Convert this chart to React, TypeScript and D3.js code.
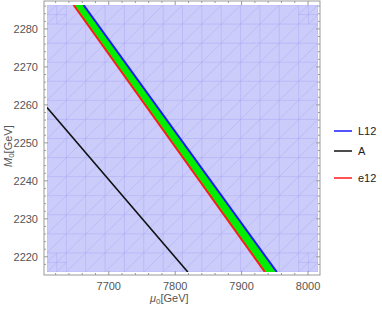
import React from "react";
import * as d3 from "d3";

// plot ranges
const muRange = [7607, 8015];
const mRange = [2216, 2286.3];

// tick values
const muTicks = [7700, 7800, 7900, 8000];
const mTicks = [2220, 2230, 2240, 2250, 2260, 2270, 2280];

// curves (mu0, M0)
const lineA = [
  { mu: 7607, m: 2259.3 },
  { mu: 7819, m: 2216 },
];
const lineL12 = [
  { mu: 7662, m: 2286.3 },
  { mu: 7953, m: 2216 },
];
const lineE12 = [
  { mu: 7647, m: 2286.3 },
  { mu: 7935, m: 2216 },
];

const legendItems = [
  { name: "L12", color: "#1a1aff" },
  { name: "A", color: "#111" },
  { name: "e12", color: "#ff1a1a" },
];

const App = () => {
  const frame = { left: 44, right: 320, top: 1, bottom: 275 };
  const inner = { left: 47, right: 318, top: 5, bottom: 272 };

  const x = d3.scaleLinear().domain(muRange).range([inner.left, inner.right]);
  const y = d3.scaleLinear().domain(mRange).range([inner.bottom, inner.top]);

  const line = d3
    .line<{ mu: number; m: number }>()
    .x((d) => x(d.mu))
    .y((d) => y(d.m));

  // green band between e12 and L12
  const band = [...lineE12, ...lineL12.slice().reverse()];

  // triangulated mesh of the shaded region
  const nx = 14;
  const ny = 14;
  const cw = (inner.right - inner.left) / nx;
  const ch = (inner.bottom - inner.top) / ny;
  const mesh: string[] = [];
  for (let i = 0; i <= nx; i++) {
    const px = inner.left + i * cw;
    mesh.push(`M${px},${inner.top}V${inner.bottom}`);
  }
  for (let j = 0; j <= ny; j++) {
    const py = inner.top + j * ch;
    mesh.push(`M${inner.left},${py}H${inner.right}`);
  }
  for (let i = 0; i < nx; i++) {
    for (let j = 0; j < ny; j++) {
      const x0 = inner.left + i * cw;
      const y0 = inner.top + j * ch;
      mesh.push(`M${x0},${y0 + ch}L${x0 + cw},${y0}`);
    }
  }
  // refined corners
  const corners = [
    [inner.left, inner.top],
    [inner.right - cw, inner.top],
    [inner.left, inner.bottom - ch],
    [inner.right - cw, inner.bottom - ch],
  ];
  corners.forEach(([cx, cy]) => {
    const hw = cw / 2;
    const hh = ch / 2;
    mesh.push(`M${cx + hw},${cy}V${cy + ch}M${cx},${cy + hh}H${cx + cw}`);
    mesh.push(`M${cx},${cy + hh}L${cx + hw},${cy}M${cx + hw},${cy + ch}L${cx + cw},${cy + hh}`);
  });

  const minorX = d3.range(7620, 8016, 20).filter((v) => !muTicks.includes(v));
  const minorY = d3.range(2218, 2287, 2).filter((v) => !mTicks.includes(v));

  const frameColor = "#999";
  const labelColor = "#555";
  const font = "'Liberation Sans', Arial, sans-serif";

  return (
    <svg width={382} height={310} style={{ position: "absolute", left: 0, top: 0 }}>
      <defs>
        <clipPath id="plotClip">
          <rect x={inner.left} y={inner.top} width={inner.right - inner.left} height={inner.bottom - inner.top} />
        </clipPath>
      </defs>
      <rect width={382} height={310} fill="#fff" />

      {/* shaded region */}
      <rect
        x={inner.left}
        y={inner.top}
        width={inner.right - inner.left}
        height={inner.bottom - inner.top}
        fill="#ccccfb"
      />
      <path d={mesh.join("")} stroke="#a3a3f2" strokeWidth={0.7} fill="none" opacity={0.6} clipPath="url(#plotClip)" />

      <g clipPath="url(#plotClip)">
        <path d={line(band) + "Z"} fill="#00ee00" stroke="none" />
        <path d={line(lineL12) || ""} fill="none" stroke="#1a1aff" strokeWidth={2} />
        <path d={line(lineE12) || ""} fill="none" stroke="#ff1a1a" strokeWidth={2} />
        <path d={line(lineA) || ""} fill="none" stroke="#111" strokeWidth={1.6} />
      </g>

      {/* frame */}
      <rect
        x={frame.left}
        y={frame.top}
        width={frame.right - frame.left}
        height={frame.bottom - frame.top}
        fill="none"
        stroke={frameColor}
        strokeWidth={1}
      />

      {/* x ticks */}
      {muTicks.map((v) => (
        <g key={"xt" + v}>
          <line x1={x(v)} x2={x(v)} y1={frame.bottom} y2={frame.bottom - 4} stroke={frameColor} />
          <line x1={x(v)} x2={x(v)} y1={frame.top} y2={frame.top + 4} stroke={frameColor} />
          <text x={x(v)} y={frame.bottom + 15} textAnchor="middle" fontSize={11} fill={labelColor} fontFamily={font}>
            {v}
          </text>
        </g>
      ))}
      {minorX.map((v) => (
        <g key={"xm" + v}>
          <line x1={x(v)} x2={x(v)} y1={frame.bottom} y2={frame.bottom - 2} stroke={frameColor} />
          <line x1={x(v)} x2={x(v)} y1={frame.top} y2={frame.top + 2} stroke={frameColor} />
        </g>
      ))}

      {/* y ticks */}
      {mTicks.map((v) => (
        <g key={"yt" + v}>
          <line x1={frame.left} x2={frame.left + 4} y1={y(v)} y2={y(v)} stroke={frameColor} />
          <line x1={frame.right} x2={frame.right - 4} y1={y(v)} y2={y(v)} stroke={frameColor} />
          <text x={38} y={y(v) + 4} textAnchor="end" fontSize={11} fill={labelColor} fontFamily={font}>
            {v}
          </text>
        </g>
      ))}
      {minorY.map((v) => (
        <g key={"ym" + v}>
          <line x1={frame.left} x2={frame.left + 2} y1={y(v)} y2={y(v)} stroke={frameColor} />
          <line x1={frame.right} x2={frame.right - 2} y1={y(v)} y2={y(v)} stroke={frameColor} />
        </g>
      ))}

      {/* axis labels */}
      <text x={150} y={302} fontSize={11} fill={labelColor} fontFamily={font}>
        <tspan fontStyle="italic">μ</tspan>
        <tspan fontSize={8} dy={2}>0</tspan>
        <tspan dy={-2}>[GeV]</tspan>
      </text>
      <text
        transform="translate(12,167) rotate(-90)"
        fontSize={11}
        fill={labelColor}
        fontFamily={font}
      >
        <tspan fontStyle="italic">M</tspan>
        <tspan fontSize={8} dy={2}>0</tspan>
        <tspan dy={-2}>[GeV]</tspan>
      </text>

      {/* legend */}
      {legendItems.map((d, i) => {
        const ly = [131, 151, 178][i];
        return (
          <g key={d.name}>
            <line x1={334} x2={352} y1={ly} y2={ly} stroke={d.color} strokeWidth={1.5} />
            <text x={358} y={ly + 4} fontSize={11} fill="#222" fontFamily={font}>
              {d.name}
            </text>
          </g>
        );
      })}
    </svg>
  );
};

export default App;
